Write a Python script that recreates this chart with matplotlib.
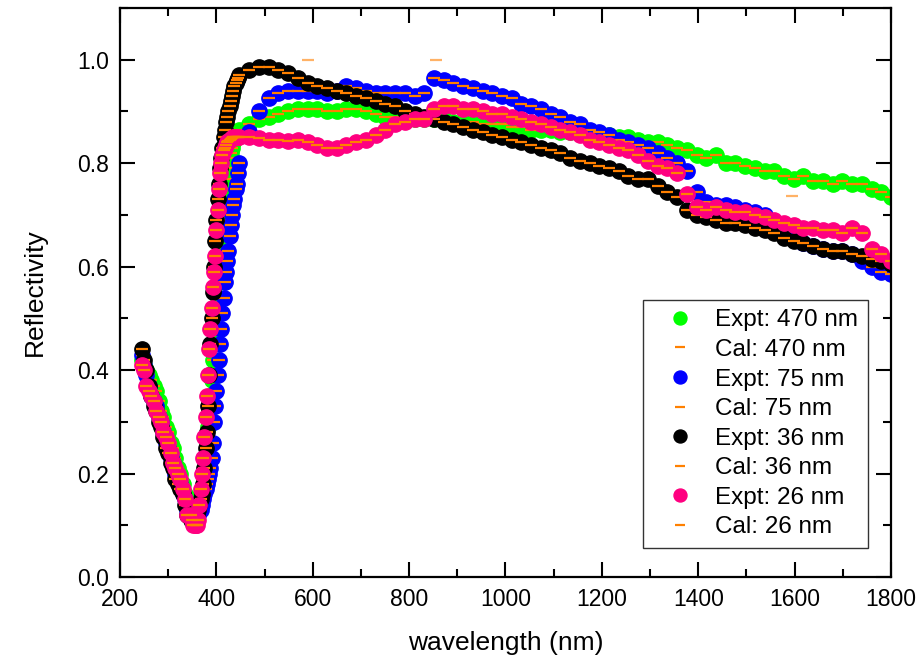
import numpy as np
import matplotlib
matplotlib.use('Agg')
import matplotlib.pyplot as plt
from matplotlib.ticker import MultipleLocator, FormatStrFormatter

plt.rcParams['font.family'] = ['Liberation Sans', 'DejaVu Sans']

# wavelength sampling (nm): descent, steep rise, long tail
wl_a = np.arange(245, 341, 5)
wl_b = np.arange(347.5, 446, 2.5)
wl_c = np.linspace(448, 1800, 68)

# Expt: 470 nm (green)
green_a = [0.42, 0.41, 0.40, 0.39, 0.38, 0.37, 0.36, 0.34, 0.32, 0.31,
           0.29, 0.28, 0.26, 0.25, 0.23, 0.21, 0.20, 0.18, 0.16, 0.15]
green_b = [0.15, 0.14, 0.14, 0.13, 0.13, 0.13, 0.13, 0.13, 0.14, 0.15,
           0.17, 0.20, 0.23, 0.26, 0.29, 0.32, 0.35, 0.38, 0.42, 0.45,
           0.48, 0.51, 0.54, 0.57, 0.60, 0.63, 0.66, 0.69, 0.72, 0.75,
           0.77, 0.79, 0.81, 0.82, 0.83, 0.84, 0.845, 0.85, 0.855, 0.86]
green_c = [0.865, 0.875, 0.885, 0.89, 0.895, 0.90, 0.905, 0.905, 0.905, 0.90,
           0.90, 0.905, 0.905, 0.90, 0.895, 0.89, 0.89, 0.89, 0.885, 0.885,
           0.885, 0.885, 0.88, 0.88, 0.88, 0.875, 0.875, 0.875, 0.87, 0.87,
           0.865, 0.865, 0.865, 0.86, 0.86, 0.86, 0.855, 0.855, 0.855, 0.85,
           0.85, 0.845, 0.84, 0.84, 0.835, 0.83, 0.825, 0.815, 0.81, 0.815,
           0.80, 0.80, 0.795, 0.79, 0.785, 0.785, 0.775, 0.77, 0.775, 0.765,
           0.765, 0.76, 0.765, 0.76, 0.76, 0.75, 0.745, 0.735]

# Expt: 75 nm (blue)
blue_a = [0.43, 0.41, 0.39, 0.37, 0.35, 0.34, 0.33, 0.31, 0.30, 0.28,
          0.26, 0.25, 0.23, 0.22, 0.20, 0.19, 0.18, 0.16, 0.15, 0.13]
blue_b = [0.13, 0.12, 0.12, 0.12, 0.12, 0.12, 0.12, 0.13, 0.13, 0.14,
          0.15, 0.16, 0.17, 0.18, 0.19, 0.20, 0.21, 0.23, 0.26, 0.30,
          0.33, 0.36, 0.39, 0.42, 0.45, 0.48, 0.51, 0.54, 0.57, 0.59,
          0.61, 0.63, 0.66, 0.68, 0.70, 0.72, 0.73, 0.75, 0.76, 0.78]
blue_c = [0.80, 0.86, 0.90, 0.925, 0.935, 0.94, 0.94, 0.94, 0.94, 0.935,
          0.94, 0.95, 0.945, 0.94, 0.935, 0.935, 0.935, 0.935, 0.93, 0.935,
          0.965, 0.96, 0.955, 0.95, 0.945, 0.94, 0.935, 0.93, 0.925, 0.915,
          0.91, 0.905, 0.895, 0.89, 0.88, 0.875, 0.865, 0.86, 0.855, 0.845,
          0.84, 0.835, 0.83, 0.82, 0.81, 0.80, 0.785, 0.745, 0.725, 0.72,
          0.72, 0.715, 0.71, 0.705, 0.70, 0.685, 0.67, 0.655, 0.645, 0.64,
          0.635, 0.63, 0.63, 0.625, 0.61, 0.60, 0.59, 0.585]

# Expt: 36 nm (black)
black_a = [0.44, 0.42, 0.40, 0.37, 0.35, 0.33, 0.32, 0.30, 0.29, 0.27,
           0.25, 0.24, 0.22, 0.21, 0.19, 0.18, 0.17, 0.16, 0.14, 0.12]
black_b = [0.11, 0.11, 0.11, 0.11, 0.12, 0.12, 0.13, 0.14, 0.15, 0.16,
           0.18, 0.21, 0.25, 0.28, 0.33, 0.39, 0.45, 0.50, 0.55, 0.60,
           0.65, 0.69, 0.73, 0.76, 0.79, 0.81, 0.83, 0.85, 0.865, 0.88,
           0.89, 0.90, 0.91, 0.92, 0.93, 0.94, 0.95, 0.955, 0.96, 0.965]
black_c = [0.97, 0.98, 0.985, 0.985, 0.98, 0.975, 0.965, 0.955, 0.95, 0.945,
           0.94, 0.935, 0.93, 0.925, 0.92, 0.915, 0.91, 0.90, 0.895, 0.89,
           0.885, 0.88, 0.875, 0.87, 0.865, 0.86, 0.855, 0.85, 0.845, 0.84,
           0.835, 0.83, 0.825, 0.82, 0.81, 0.805, 0.80, 0.795, 0.79, 0.785,
           0.775, 0.77, 0.77, 0.755, 0.745, 0.735, 0.71, 0.70, 0.695, 0.69,
           0.685, 0.685, 0.68, 0.675, 0.67, 0.665, 0.655, 0.65, 0.645, 0.64,
           0.635, 0.63, 0.63, 0.625, 0.62, 0.615, 0.61, 0.605]

# Expt: 26 nm (pink)
pink_a = [0.41, 0.40, 0.37, 0.36, 0.35, 0.34, 0.32, 0.31, 0.30, 0.28,
          0.27, 0.26, 0.24, 0.22, 0.21, 0.20, 0.19, 0.17, 0.15, 0.12]
pink_b = [0.12, 0.11, 0.10, 0.10, 0.10, 0.10, 0.11, 0.14, 0.17, 0.20,
          0.23, 0.27, 0.31, 0.35, 0.39, 0.44, 0.48, 0.52, 0.56, 0.59,
          0.62, 0.67, 0.71, 0.75, 0.78, 0.80, 0.815, 0.825, 0.83, 0.835,
          0.84, 0.842, 0.845, 0.847, 0.848, 0.85, 0.85, 0.85, 0.851, 0.85]
pink_c = [0.85, 0.85, 0.848, 0.845, 0.845, 0.843, 0.845, 0.84, 0.835, 0.83,
          0.83, 0.835, 0.84, 0.845, 0.855, 0.865, 0.875, 0.88, 0.885, 0.885,
          0.905, 0.91, 0.91, 0.905, 0.905, 0.90, 0.895, 0.895, 0.89, 0.885,
          0.88, 0.875, 0.87, 0.865, 0.86, 0.855, 0.845, 0.84, 0.835, 0.83,
          0.825, 0.815, 0.805, 0.795, 0.79, 0.78, 0.74, 0.715, 0.71, 0.715,
          0.71, 0.705, 0.705, 0.70, 0.695, 0.69, 0.685, 0.68, 0.675, 0.675,
          0.67, 0.67, 0.665, 0.675, 0.665, 0.635, 0.625, 0.61]

# stray points of the calculated curves
cal_stray_x = [590, 856, 1594]
cal_stray_y = [1.0, 1.0, 0.736]

series = [
    ('470 nm', green_a + green_b + green_c, '#00FF00'),
    ('75 nm', blue_a + blue_b + blue_c, '#0000FF'),
    ('36 nm', black_a + black_b + black_c, '#000000'),
    ('26 nm', pink_a + pink_b + pink_c, '#FF0080'),
]
wl = np.concatenate([wl_a, wl_b, wl_c])
cal_color = '#FF8000'

fig = plt.figure(figsize=(9.23, 6.63), dpi=100)
ax = fig.add_axes([0.130, 0.1297, 0.8353, 0.8583])

for name, vals, col in series:
    ax.plot(wl, vals, 'o', color=col, ms=11, mec=col, label='Expt: ' + name)
    # calculated curve sits on top of the measured one
    ax.plot(wl, vals, '_', color=cal_color, ms=9, mew=1.6, label='Cal: ' + name)

ax.plot(cal_stray_x, cal_stray_y, '_', color=cal_color, ms=9, mew=1.6, alpha=0.6)

ax.set_xlim(200, 1800)
ax.set_ylim(0, 1.1)
ax.xaxis.set_major_locator(MultipleLocator(200))
ax.xaxis.set_minor_locator(MultipleLocator(100))
ax.yaxis.set_major_locator(MultipleLocator(0.2))
ax.yaxis.set_minor_locator(MultipleLocator(0.1))
ax.yaxis.set_major_formatter(FormatStrFormatter('%.1f'))
ax.tick_params(which='both', direction='in', top=True, right=True, width=1.5,
               labelsize=16.5, pad=8)
ax.tick_params(which='major', length=11)
ax.tick_params(which='minor', length=6)
for s in ax.spines.values():
    s.set_linewidth(1.6)

ax.set_xlabel('wavelength (nm)', fontsize=19, labelpad=14)
ax.set_ylabel('Reflectivity', fontsize=19, labelpad=22)

leg = ax.legend(loc='lower right', bbox_to_anchor=(0.970, 0.051), numpoints=1,
                fontsize=17.5, frameon=True, fancybox=False, edgecolor='black',
                borderpad=0.4, labelspacing=0.31, handlelength=2.2,
                handletextpad=0.35, borderaxespad=0, markerscale=0.85)
leg.get_frame().set_linewidth(1.0)

fig.savefig('out.png', dpi=100)
